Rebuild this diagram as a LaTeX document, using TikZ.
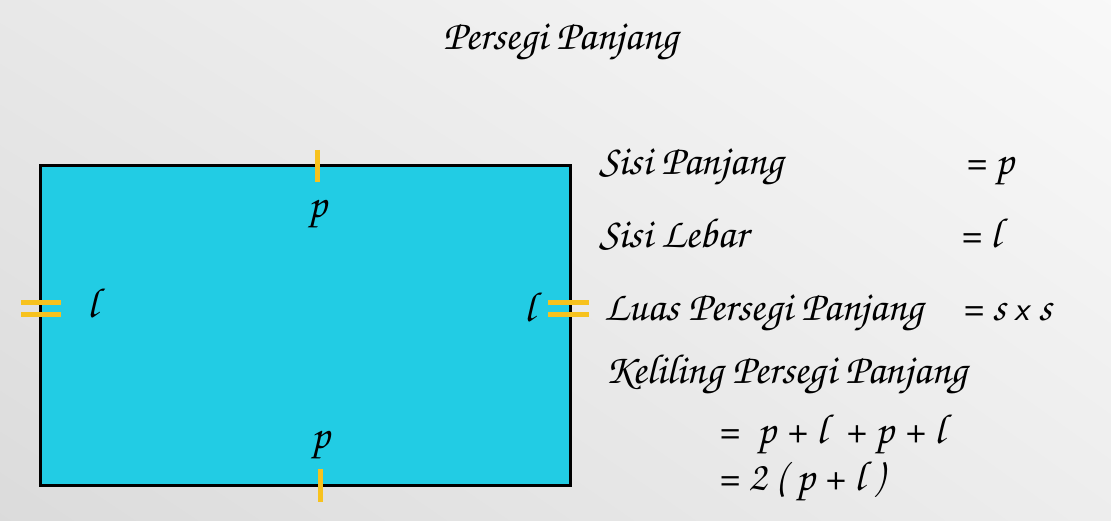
\documentclass[tikz,border=0pt]{standalone}
\usepackage[T1,TU]{fontenc}
\usepackage{tikz}
\usetikzlibrary{positioning, calc, shadings}
\definecolor{cyanbox}{HTML}{22CCE4}
\definecolor{tandakuning}{HTML}{F7C21E}
\newcommand{\corsiva}{\fontencoding{T1}\fontfamily{pzc}\fontseries{m}\fontshape{it}\selectfont}
\tikzset{>=latex}

\begin{document}
\begin{tikzpicture}[x=1pt,y=-1pt,
    persegi/.style={draw=black,line width=3pt,fill=cyanbox,inner sep=0pt},
    tanda/.style={draw=tandakuning,line width=5pt},
    teks/.style={anchor=base west,inner sep=0pt,font=\corsiva\fontsize{42}{48}\selectfont},
    huruf/.style={anchor=base,inner sep=0pt,font=\corsiva\fontsize{42}{48}\selectfont}]
    \useasboundingbox (0,0) rectangle (1111,521);
    \shade[upper left=gray!18,upper right=gray!5,lower left=gray!28,lower right=gray!14] (0,0) rectangle (1111,521);
    % persegi panjang
    \node[persegi,minimum width=530pt,minimum height=319pt] (rect) at (305,325.5) {};
    \draw[tanda] (317,150) -- (317,182);
    \draw[tanda] (320,469) -- (320,502);
    \draw[tanda] (21,303) -- (61,303);
    \draw[tanda] (21,315) -- (61,315);
    \draw[tanda] (548,303) -- (589,303);
    \draw[tanda] (548,315) -- (589,315);
    \node[huruf] (ptop) at (318,218) {p};
    \node[huruf] (pbot) at (321,448) {p};
    \node[huruf] (lkiri) at (93,318) {l};
    \node[huruf] (lkanan) at (530,321) {l};
    % teks
    \node[teks] (judul) at (443,50) {Persegi Panjang};
    \node[teks] (panjang) at (599,175) {Sisi Panjang};
    \node[teks] (nilaip) at (964,175) {= p};
    \node[teks] (lebar) at (599,248) {Sisi Lebar};
    \node[teks] (nilail) at (959,248) {= l};
    \node[teks] (luas) at (604,320) {Luas Persegi Panjang};
    \node[teks] (nilais) at (961,320) {= s {\fontencoding{TU}\sffamily\fontsize{34}{40}\selectfont x} s};
    \node[teks] (keliling) at (605,383) {Keliling Persegi Panjang};
    \node[teks] (rumus1) at (717,443) {= \ p + l \ + p + l};
    \node[teks] (rumus2) at (717,490) {= 2 ( p + l )};
\end{tikzpicture}
\end{document}
